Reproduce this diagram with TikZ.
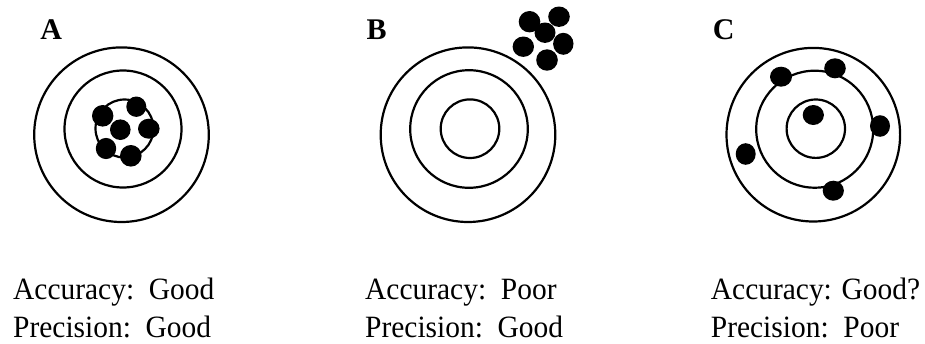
\documentclass[tikz,border=0pt]{standalone}
\usepackage{fontspec}
\setmainfont{Liberation Serif}
\newfontfamily\captfont[FakeStretch=0.95]{Liberation Serif}
\begin{document}
\begin{tikzpicture}[x=1pt,y=-1pt,
  ring/.style={draw=black, line width=2.2pt},
  shot/.style={fill=black},
  lbl/.style={anchor=base, inner sep=0pt, font=\fontsize{30}{36}\selectfont\bfseries},
  txt/.style={anchor=base west, inner sep=0pt, font=\captfont\fontsize{31}{36}\selectfont}]
\useasboundingbox (0,0) rectangle (925,343);

% ---- Target A ----
\node[lbl] (labA) at (51.3,39) {A};
\draw[ring] (121.5,134.7) circle (87.3);
\draw[ring] (123,129) circle (58.5);
\draw[ring] (124.5,128.5) circle (29);
\fill[shot] (102.7,115.8) ellipse (10.7 and 10.8);
\fill[shot] (136.3,106.7) ellipse (10 and 10.2);
\fill[shot] (120.3,129.7) ellipse (10.3 and 10.3);
\fill[shot] (148.8,128.7) ellipse (10.8 and 10);
\fill[shot] (106,148.5) ellipse (10.2 and 10.6);
\fill[shot] (130.8,155.8) ellipse (10.8 and 10.8);
\node[txt] (accA) at (13,299.5) {Accuracy:\ \ Good};
\node[txt] (preA) at (13,337.8) {Precision:\ \ Good};

% ---- Target B ----
\node[lbl] (labB) at (376.7,39) {B};
\draw[ring] (468,134.7) circle (87.3);
\draw[ring] (469,129) circle (58.8);
\draw[ring] (470,128.7) circle (29.3);
\fill[shot] (529.5,21.7) ellipse (10.8 and 10.7);
\fill[shot] (559,16.7) ellipse (10.8 and 10.2);
\fill[shot] (545,32.7) ellipse (10.5 and 10.2);
\fill[shot] (523.3,46.7) ellipse (10.7 and 10.2);
\fill[shot] (563.3,43.8) ellipse (10.2 and 11);
\fill[shot] (547,60) ellipse (10.8 and 10.7);
\node[txt] (accB) at (365,299.5) {Accuracy:\ \ Poor};
\node[txt] (preB) at (365,337.8) {Precision:\ \ Good};

% ---- Target C ----
\node[lbl] (labC) at (723.8,39) {C};
\draw[ring] (813.3,134.7) circle (86.8);
\draw[ring] (814.7,129.2) circle (58.5);
\draw[ring] (815.8,128.7) circle (29.2);
\fill[shot] (781,76.7) ellipse (11 and 10);
\fill[shot] (835,68.3) ellipse (10.8 and 10);
\fill[shot] (813.3,115) ellipse (10.6 and 10);
\fill[shot] (880,126) ellipse (10 and 10.8);
\fill[shot] (745.7,154) ellipse (10 and 10.8);
\fill[shot] (833.3,190.7) ellipse (10.6 and 10);
\node[txt] (accC) at (710.7,299.5) {Accuracy: Good?};
\node[txt] (preC) at (710.7,337.8) {Precision:\ \ Poor};
\end{tikzpicture}
\end{document}
